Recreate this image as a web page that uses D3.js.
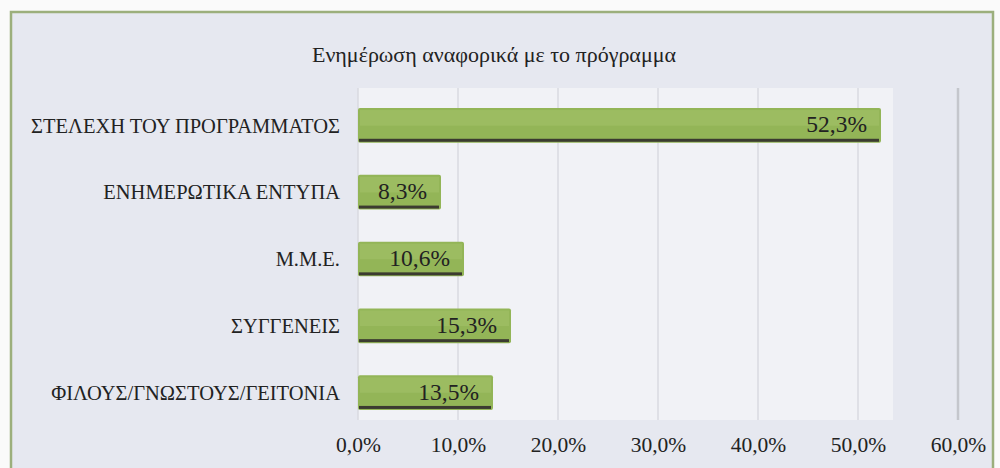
<!DOCTYPE html>
<html><head><meta charset="utf-8">
<script src="https://cdn.jsdelivr.net/npm/d3@7"></script>
<style>
html,body{margin:0;padding:0;background:#fafafa;}
svg{display:block;}
</style></head><body>
<svg id="c" width="1000" height="468"></svg>
<script>
const categories = ["ΣΤΕΛΕΧΗ ΤΟΥ ΠΡΟΓΡΑΜΜΑΤΟΣ","ΕΝΗΜΕΡΩΤΙΚΑ ΕΝΤΥΠΑ","Μ.Μ.Ε.","ΣΥΓΓΕΝΕΙΣ","ΦΙΛΟΥΣ/ΓΝΩΣΤΟΥΣ/ΓΕΙΤΟΝΙΑ"];
const values = [52.3, 8.3, 10.6, 15.3, 13.5];
const tickValues = [0, 10, 20, 30, 40, 50, 60];
const title = "Ενημέρωση αναφορικά με το πρόγραμμα";

const FONT = '"Liberation Serif"';
const svg = d3.select("#c");
const fmt = v => v.toFixed(1).replace(".", ",") + "%";

// chart frame
svg.append("rect").attr("x",11).attr("y",12).attr("width",982).attr("height",470)
  .attr("fill","#e6e8f0").attr("stroke","#9caf7c").attr("stroke-width",2.5);

const x = d3.scaleLinear().domain([0,60]).range([358,958]);
const y = d3.scaleBand().domain(categories).range([76,442]).padding(0.48);

// plot area lighter background
svg.append("rect").attr("x",x(0)).attr("y",88).attr("width",x(53.5)-x(0)).attr("height",332)
  .attr("fill","#f1f2f6");

// gridlines
svg.append("g").selectAll("line").data(tickValues.filter(d=>d>0)).join("line")
  .attr("x1",d=>x(d)).attr("x2",d=>x(d)).attr("y1",88).attr("y2",420)
  .attr("stroke",d=>d===60?"#c4c6cc":"#d8dae0").attr("stroke-width",d=>d===60?2.5:1.5);
svg.append("line").attr("x1",x(0)).attr("x2",x(0)).attr("y1",88).attr("y2",420)
  .attr("stroke","#d8dae0").attr("stroke-width",1.5);

// title
svg.append("text").attr("x",494).attr("y",62).attr("text-anchor","middle")
  .style("font-family",FONT).attr("font-size",22).attr("fill","#222").text(title);

// bars
const g = svg.append("g");
g.selectAll("rect.bar").data(values).join("rect").attr("class","bar")
  .attr("x",x(0)).attr("y",(d,i)=>y(categories[i]))
  .attr("width",d=>x(d)-x(0)).attr("height",y.bandwidth())
  .attr("fill","#93b557").attr("rx",2);
g.selectAll("rect.hl").data(values).join("rect").attr("class","hl")
  .attr("x",x(0)+2).attr("y",(d,i)=>y(categories[i])+2)
  .attr("width",d=>x(d)-x(0)-4).attr("height",y.bandwidth()*0.45)
  .attr("fill","#a2c168").attr("opacity",0.6);
g.selectAll("rect.shadow").data(values).join("rect").attr("class","shadow")
  .attr("x",x(0)+1).attr("y",(d,i)=>y(categories[i])+y.bandwidth()-4)
  .attr("width",d=>x(d)-x(0)-3).attr("height",3)
  .attr("fill","#3b3b30");

// value labels
g.selectAll("text.val").data(values).join("text").attr("class","val")
  .attr("x",d=>x(d)-14).attr("y",(d,i)=>y(categories[i])+y.bandwidth()/2+7)
  .attr("text-anchor","end").style("font-family",FONT).attr("font-size",23.5).attr("fill","#222").text(d=>fmt(d));

// category axis
const ya = svg.append("g").attr("transform",`translate(${x(0)-18},0)`)
  .call(d3.axisLeft(y).tickSize(0).tickPadding(0));
ya.select(".domain").remove();
ya.selectAll("text").attr("font-size",20.5).style("font-family",FONT).attr("fill","#222").attr("dy","0.35em");

// value axis
const xa = svg.append("g").attr("transform","translate(0,452)")
  .call(d3.axisBottom(x).tickValues(tickValues).tickSize(0).tickPadding(0).tickFormat(fmt));
xa.select(".domain").remove();
xa.selectAll("text").attr("font-size",21.5).style("font-family",FONT).attr("fill","#222").attr("dy","0");
</script>
</body></html>
